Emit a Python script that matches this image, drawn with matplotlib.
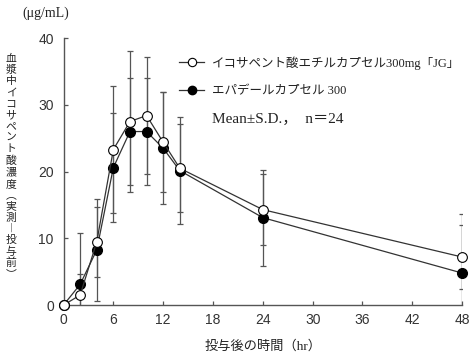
import matplotlib
matplotlib.use("Agg")
import matplotlib.pyplot as plt
from matplotlib.lines import Line2D

# 投与後の時間 (hr)
time = [0, 2, 4, 6, 8, 10, 12, 14, 24, 48]
# イコサペント酸エチルカプセル300mg「JG」
jg_mean = [0, 1.5, 9.45, 23.3, 27.5, 28.4, 24.4, 20.5, 14.3, 7.2]
jg_sd = [0, 3.2, 5.3, 9.55, 10.5, 8.8, 7.5, 6.6, 5.3, 4.75]
# エパデールカプセル300
epa_mean = [0, 3.1, 8.25, 20.6, 26.0, 26.0, 23.5, 20.15, 13.1, 4.8]
epa_sd = [0, 7.7, 7.6, 8.2, 8.0, 8.05, 8.4, 8.05, 7.2, 8.8]

x_ticks = [0, 6, 12, 18, 24, 30, 36, 42, 48]
y_ticks = [0, 10, 20, 30, 40]

label_jg = "イコサペント酸エチルカプセル300mg「JG」"
label_epa = "エパデールカプセル 300"
label_stat = "Mean±S.D.，  n＝24"
y_label = "血漿中イコサペント酸濃度︵実測︱投与前︶"

MIXED = ["Liberation Serif", "Noto Sans CJK JP", "DejaVu Sans"]
AXIS_COLOR = "#555555"
LINE_COLOR = "#333333"
TEXT_COLOR = "#222222"

fig = plt.figure(figsize=(4.74, 3.56), dpi=100)
ax = fig.add_axes([0.134, 0.143, 0.841, 0.75])

# エラーバー（0 時間は除く）
ax.errorbar(time[1:], jg_mean[1:], yerr=jg_sd[1:], fmt="none", ecolor=AXIS_COLOR,
            elinewidth=0.9, capsize=2.5, capthick=0.9, zorder=1)
ax.errorbar(time[1:], epa_mean[1:], yerr=epa_sd[1:], fmt="none", ecolor=AXIS_COLOR,
            elinewidth=0.9, capsize=2.5, capthick=0.9, zorder=1)

ax.plot(time, epa_mean, color=LINE_COLOR, linewidth=0.9, marker="o", markersize=7,
        markerfacecolor="black", markeredgecolor="black", clip_on=False, zorder=3)
ax.plot(time, jg_mean, color=LINE_COLOR, linewidth=0.9, marker="o", markersize=7,
        markerfacecolor="white", markeredgecolor="black", markeredgewidth=0.8,
        clip_on=False, zorder=4)

ax.set_xlim(0, 48)
ax.set_ylim(0, 40)
ax.set_xticks(x_ticks)
ax.set_yticks(y_ticks)
for side in ("top", "right"):
    ax.spines[side].set_visible(False)
for side in ("left", "bottom"):
    ax.spines[side].set_color(AXIS_COLOR)
    ax.spines[side].set_linewidth(1.0)
ax.tick_params(direction="in", length=3, width=0.9, color=AXIS_COLOR,
               labelcolor="#333333", labelsize=10)
ax.tick_params(axis="y", pad=7)
ax.tick_params(axis="x", pad=6)
for lab in ax.get_xticklabels() + ax.get_yticklabels():
    lab.set_fontfamily("Liberation Sans")

ax.set_xlabel("投与後の時間（hr）", family=MIXED, fontsize=9.5, color=TEXT_COLOR, labelpad=9)

handles = [
    Line2D([], [], color=LINE_COLOR, linewidth=0.9, marker="o", markersize=6,
           markerfacecolor="white", markeredgecolor="black", markeredgewidth=0.8),
    Line2D([], [], color=LINE_COLOR, linewidth=0.9, marker="o", markersize=6,
           markerfacecolor="black", markeredgecolor="black"),
    Line2D([], [], linestyle="none"),
]
leg = ax.legend(handles, [label_jg, label_epa, label_stat], loc="upper left",
                bbox_to_anchor=(0.29, 0.932), frameon=False, borderaxespad=0,
                borderpad=0, handlelength=2.0, handletextpad=0.6, labelspacing=1.25,
                prop={"family": MIXED, "size": 9})
for txt in leg.get_texts():
    txt.set_color(TEXT_COLOR)
leg.get_texts()[2].set_fontsize(11)

fig.text(0.047, 0.963, "(μg/mL)", family=MIXED, fontsize=10, color=TEXT_COLOR,
         ha="left", va="center")

# 縦書きの軸ラベル: 1 文字ずつ縦に並べる
top_px, pitch_px = 58.5, 11.37
for i, ch in enumerate(y_label):
    fig.text(11 / 474, 1 - (top_px + i * pitch_px) / 356, ch,
             family=["Noto Sans CJK JP", "DejaVu Sans"], fontsize=7.8,
             color=TEXT_COLOR, ha="center", va="center")

fig.savefig("out.png", dpi=100)
